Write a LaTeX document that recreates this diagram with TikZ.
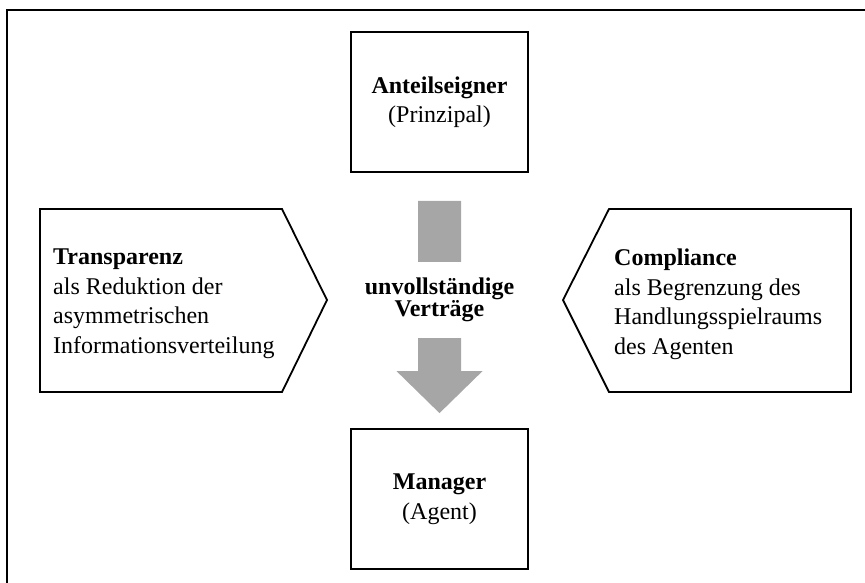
\documentclass[tikz,border=0pt]{standalone}
\usepackage{fontspec}
\setmainfont{Liberation Serif}
\usetikzlibrary{calc}
\definecolor{arrowgray}{RGB}{166,166,166}
\begin{document}
\begin{tikzpicture}[x=1pt,y=-1pt,
  every node/.style={font=\fontsize{24}{29.5}\selectfont, inner sep=0pt},
  partybox/.style={draw, line width=1.8pt, minimum width=177pt, minimum height=140pt, align=center},
  sidepanel/.style={draw, line width=1.8pt, line join=miter},
  sidetext/.style={anchor=north west, align=left},
  frame/.style={line width=1.8pt}]
\useasboundingbox (0,0) rectangle (865,582);
% outer frame (runs off the right and bottom edges)
\draw[frame] (7,583) -- (7,10) -- (866,10);

% principal and agent
\node[partybox] (principal) at (439.5,102) {\textbf{Anteilseigner}\\(Prinzipal)};
\node[partybox] (agent) at (439.5,499) {\textbf{Manager}\\(Agent)};

% broad downward arrow between them
\coordinate (shafttop) at ($(principal.south)+(0,28)$);
\coordinate (tip) at ($(agent.north)+(0,-15)$);
\fill[arrowgray] ($(shafttop)+(-21.5,0)$) -- ($(shafttop)+(21.5,0)$)
  -- ($(tip)+(21.5,-42)$) -- ($(tip)+(43,-42)$) -- (tip)
  -- ($(tip)+(-43,-42)$) -- ($(tip)+(-21.5,-42)$) -- cycle;
\node[fill=white, minimum height=76pt, align=center,
  font=\fontsize{24}{22}\selectfont\bfseries] (contracts) at (439.5,300)
  {unvollständige\\Verträge};

% side panels pointing towards the centre
\draw[sidepanel] (40,209) -- (282,209) -- (327,300) -- (282,392) -- (40,392) -- cycle;
\draw[sidepanel] (851,209) -- (609,209) -- (563,300) -- (609,392) -- (851,392) -- cycle;

\node[sidetext] (transparency) at (53,249)
  {\textbf{Transparenz}\\als Reduktion der\\asymmetrischen\\Informationsverteilung};
\node[sidetext] (compliance) at (614,249)
  {\textbf{Compliance}\\als Begrenzung des\\Handlungsspielraums\\des Agenten};
\end{tikzpicture}
\end{document}
